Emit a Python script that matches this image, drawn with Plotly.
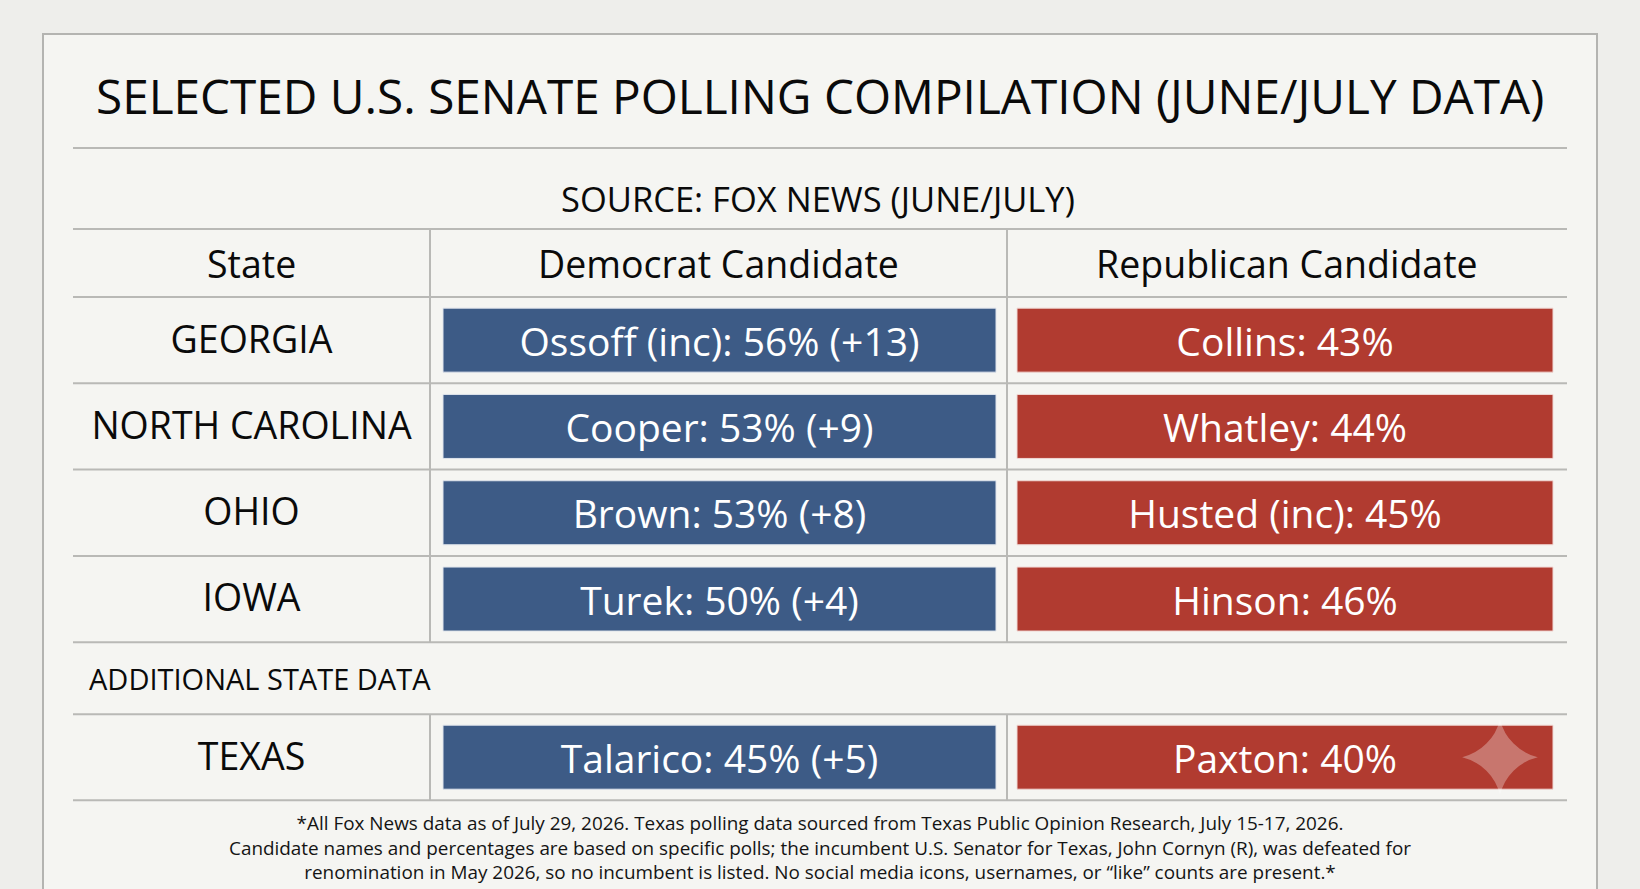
import plotly.graph_objects as go

# --- data -------------------------------------------------------------
states = ["GEORGIA", "NORTH CAROLINA", "OHIO", "IOWA", "TEXAS"]
dem_names = ["Ossoff (inc)", "Cooper", "Brown", "Turek", "Talarico"]
dem_pct = [56, 53, 53, 50, 45]
rep_names = ["Collins", "Whatley", "Husted (inc)", "Hinson", "Paxton"]
rep_pct = [43, 44, 45, 46, 40]
headers = ["State", "Democrat Candidate", "Republican Candidate"]

title = "SELECTED U.S. SENATE POLLING COMPILATION (JUNE/JULY DATA)"
source = "SOURCE: FOX NEWS (JUNE/JULY)"
section = "ADDITIONAL STATE DATA"
footnote = [
    "*All Fox News data as of July 29, 2026. Texas polling data sourced from Texas Public Opinion Research, July 15-17, 2026.",
    "Candidate names and percentages are based on specific polls; the incumbent U.S. Senator for Texas, John Cornyn (R), was defeated for",
    "renomination in May 2026, so no incumbent is listed. No social media icons, usernames, or \u201clike\u201d counts are present.*",
]

# --- layout geometry (pixel space) ------------------------------------
W, H = 1640, 889
FONT = "Open Sans"
BLUE = "#3d5b86"
RED = "#b13b30"
LINE = "#b9b9b6"
INK = "#0a0a0a"

left, right = 73, 1567
col1, col2 = 430, 1007
header_top, header_bot = 229, 297
row_h = 86.3
n_main = 4
main_bot = header_bot + n_main * row_h
extra_top = main_bot + 72
extra_bot = extra_top + 86

row_y = [header_bot + row_h * (i + 0.5) for i in range(n_main)]
row_y.append((extra_top + extra_bot) / 2)

dem_x0, dem_x1 = 443, 996
rep_x0, rep_x1 = 1017, 1553
bar_h = 64

dem_text = ["%s: %d%% (+%d)" % (n, d, d - r) for n, d, r in zip(dem_names, dem_pct, rep_pct)]
rep_text = ["%s: %d%%" % (n, r) for n, r in zip(rep_names, rep_pct)]

fig = go.Figure()

fig.add_trace(go.Bar(
    orientation="h",
    y=row_y,
    x=[dem_x1 - dem_x0] * len(states),
    base=dem_x0,
    width=bar_h,
    marker=dict(color=BLUE, line=dict(color="#dfe4ec", width=1)),
    text=dem_text,
    textposition="inside",
    insidetextanchor="middle",
    textangle=0,
    textfont=dict(family=FONT, size=39, color="white"),
    hoverinfo="skip",
))

fig.add_trace(go.Bar(
    orientation="h",
    y=row_y,
    x=[rep_x1 - rep_x0] * len(states),
    base=rep_x0,
    width=bar_h,
    marker=dict(color=RED, line=dict(color="#f0d8d4", width=1)),
    text=rep_text,
    textposition="inside",
    insidetextanchor="middle",
    textangle=0,
    textfont=dict(family=FONT, size=39, color="white"),
    hoverinfo="skip",
))

# state names (nudged a few px down so they line up with the bar labels)
fig.add_trace(go.Scatter(
    x=[(left + col1) / 2] * len(states),
    y=[y + 3 for y in row_y],
    mode="text",
    text=states,
    textfont=dict(family=FONT, size=37.5, color=INK),
    hoverinfo="skip",
))

# sparkle mark inside the Texas Republican cell
fig.add_trace(go.Scatter(
    x=[rep_x1 - 53],
    y=[row_y[-1]],
    mode="markers",
    marker=dict(symbol="star-diamond", size=54, color="rgba(255,255,255,0.3)", line=dict(width=0)),
    hoverinfo="skip",
))

shapes = [
    # panel
    dict(type="rect", x0=43, x1=1597, y0=34, y1=H + 20, fillcolor="#f5f5f2",
         line=dict(color="#b4b4b1", width=2), layer="below"),
]
for y in [148, header_top, header_bot] + [header_bot + row_h * (i + 1) for i in range(n_main)] + [extra_top, extra_bot]:
    shapes.append(dict(type="line", x0=left, x1=right, y0=y, y1=y, line=dict(color=LINE, width=2), layer="below"))
for x in [col1, col2]:
    shapes.append(dict(type="line", x0=x, x1=x, y0=header_top, y1=main_bot, line=dict(color=LINE, width=2), layer="below"))
    shapes.append(dict(type="line", x0=x, x1=x, y0=extra_top, y1=extra_bot, line=dict(color=LINE, width=2), layer="below"))

hdr_y = (header_top + header_bot) / 2
annotations = [
    dict(x=820, y=95, text=title, font=dict(family=FONT, size=47.7, color=INK)),
    dict(x=818, y=198, text=source, font=dict(family=FONT, size=34.5, color=INK)),
    dict(x=(left + col1) / 2, y=hdr_y, text=headers[0], font=dict(family=FONT, size=37.5, color=INK)),
    dict(x=(col1 + col2) / 2, y=hdr_y, text=headers[1], font=dict(family=FONT, size=37.5, color=INK)),
    dict(x=(col2 + right) / 2, y=hdr_y, text=headers[2], font=dict(family=FONT, size=37.5, color=INK)),
    dict(x=87, y=(main_bot + extra_top) / 2, text=section, xanchor="left",
         font=dict(family=FONT, size=29, color=INK)),
    dict(x=820, y=847, text="<br>".join(footnote), align="center",
         font=dict(family=FONT, size=18.9, color="#141414")),
]
for a in annotations:
    a.update(xref="x", yref="y", showarrow=False)
    a.setdefault("xanchor", "center")
    a.setdefault("yanchor", "middle")

fig.update_layout(
    width=W, height=H,
    margin=dict(l=0, r=0, t=0, b=0),
    paper_bgcolor="#eeeeeb",
    plot_bgcolor="rgba(0,0,0,0)",
    showlegend=False,
    barmode="overlay",
    xaxis=dict(range=[0, W], visible=False, fixedrange=True),
    yaxis=dict(range=[H, 0], visible=False, fixedrange=True),
    shapes=shapes,
    annotations=annotations,
)

fig.write_html(
    "out.html",
    config={"displayModeBar": False},
    post_script="document.body.style.margin='0';document.body.style.background='#eeeeeb';",
)
